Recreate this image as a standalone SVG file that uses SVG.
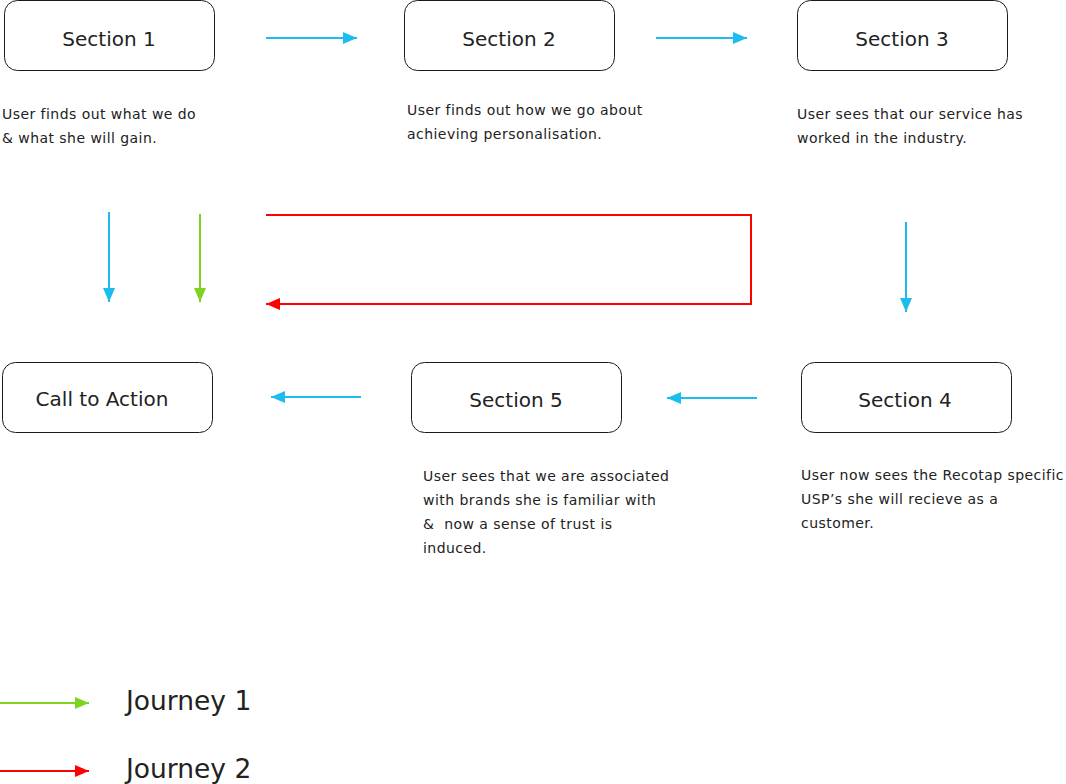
<svg xmlns="http://www.w3.org/2000/svg" width="1066" height="784" viewBox="0 0 1066 784">
<style>
.box{fill:#fff;stroke:#1a1a1a;stroke-width:1}
.lbl{font-family:"DejaVu Sans","Open Sans",sans-serif;font-size:20px;fill:#222;text-anchor:middle}
.desc{font-family:"DejaVu Sans","Open Sans",sans-serif;font-size:14px;letter-spacing:0.45px;fill:#222}
.leg{font-family:"DejaVu Sans","Open Sans",sans-serif;font-size:26.5px;fill:#222}
.blue{stroke:#1BBDEF;stroke-width:2;fill:none;marker-end:url(#hb)}
.green{stroke:#7ED321;stroke-width:2;fill:none;marker-end:url(#hg)}
.red{stroke:#FF0000;stroke-width:2;fill:none;marker-end:url(#hr)}
</style>
<defs>
<marker id="hb" viewBox="0 0 14 12" refX="14" refY="6" markerWidth="14" markerHeight="12" markerUnits="userSpaceOnUse" orient="auto"><path d="M0,0 L14,6 L0,12 Z" fill="#1BBDEF"/></marker>
<marker id="hg" viewBox="0 0 14 12" refX="14" refY="6" markerWidth="14" markerHeight="12" markerUnits="userSpaceOnUse" orient="auto"><path d="M0,0 L14,6 L0,12 Z" fill="#7ED321"/></marker>
<marker id="hr" viewBox="0 0 14 12" refX="14" refY="6" markerWidth="14" markerHeight="12" markerUnits="userSpaceOnUse" orient="auto"><path d="M0,0 L14,6 L0,12 Z" fill="#FF0000"/></marker>
</defs>
<g id="section1"><rect class="box" x="4.5" y="0.5" width="210" height="70" rx="13"/><text class="lbl" x="109" y="46">Section 1</text></g>
<g id="section2"><rect class="box" x="404.5" y="0.5" width="210" height="70" rx="13"/><text class="lbl" x="509" y="46">Section 2</text></g>
<g id="section3"><rect class="box" x="797.5" y="0.5" width="210" height="70" rx="13"/><text class="lbl" x="902" y="46">Section 3</text></g>
<g id="cta"><rect class="box" x="2.5" y="362.5" width="210" height="70" rx="13"/><text class="lbl" x="102" y="406">Call to Action</text></g>
<g id="section5"><rect class="box" x="411.5" y="362.5" width="210" height="70" rx="13"/><text class="lbl" x="516" y="407">Section 5</text></g>
<g id="section4"><rect class="box" x="801.5" y="362.5" width="210" height="70" rx="13"/><text class="lbl" x="905" y="407">Section 4</text></g>
<g id="desc1"><text class="desc" x="2" y="119">User finds out what we do</text><text class="desc" x="2" y="143">&amp; what she will gain.</text></g>
<g id="desc2"><text class="desc" x="407" y="115">User finds out how we go about</text><text class="desc" x="407" y="139">achieving personalisation.</text></g>
<g id="desc3"><text class="desc" x="797" y="119">User sees that our service has</text><text class="desc" x="797" y="143">worked in the industry.</text></g>
<g id="desc5"><text class="desc" x="423" y="481">User sees that we are associated</text><text class="desc" x="423" y="505">with brands she is familiar with</text><text class="desc" x="423" y="529" xml:space="preserve">&amp;  now a sense of trust is</text><text class="desc" x="423" y="553">induced.</text></g>
<g id="desc4"><text class="desc" x="801" y="480">User now sees the Recotap specific</text><text class="desc" x="801" y="504">USP’s she will recieve as a</text><text class="desc" x="801" y="528">customer.</text></g>
<g id="connectors">
<line class="blue" x1="266" y1="38" x2="357" y2="38"/>
<line class="blue" x1="656" y1="38" x2="747" y2="38"/>
<line class="blue" x1="109" y1="212" x2="109" y2="302"/>
<line class="green" x1="200" y1="214" x2="200" y2="302"/>
<polyline class="red" points="266,215 751,215 751,304 266,304"/>
<line class="blue" x1="906" y1="222" x2="906" y2="312"/>
<line class="blue" x1="757" y1="398" x2="667" y2="398"/>
<line class="blue" x1="361" y1="397" x2="271" y2="397"/>
</g>
<g id="legend">
<line class="green" x1="0" y1="703" x2="89" y2="703"/>
<text class="leg" x="126" y="710">Journey 1</text>
<line class="red" x1="0" y1="771" x2="89" y2="771"/>
<text class="leg" x="126" y="778">Journey 2</text>
</g>
</svg>
